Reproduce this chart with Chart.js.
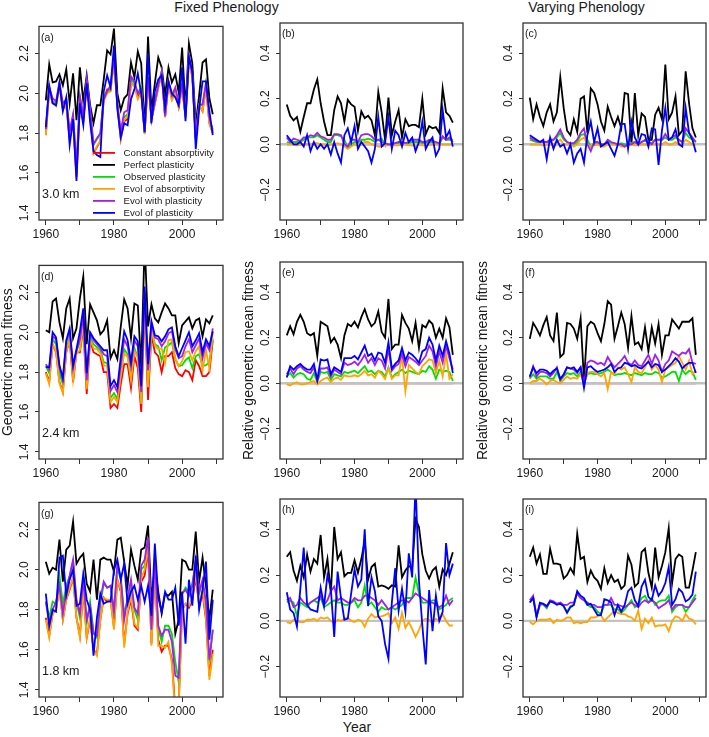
<!DOCTYPE html>
<html><head><meta charset="utf-8">
<script src="https://cdn.jsdelivr.net/npm/chart.js@4.4.1/dist/chart.umd.min.js"></script>
<style>
body{margin:0;width:709px;height:737px;background:#fff;position:relative;overflow:hidden;font-family:"Liberation Sans",Arial,sans-serif;}
canvas{position:absolute;}
.t{position:absolute;color:#1a1a1a;font-size:14px;line-height:16px;white-space:nowrap;transform:translateX(-50%);}
</style></head><body>
<div class="t" style="left:226.5px;top:-1px">Fixed Phenology</div>
<div class="t" style="left:586.5px;top:-1px">Varying Phenology</div>
<div class="t" style="left:357px;top:719px">Year</div>
<script>
const years = [1960,1961,1962,1963,1964,1965,1966,1967,1968,1969,1970,1971,1972,1973,1974,1975,1976,1977,1978,1979,1980,1981,1982,1983,1984,1985,1986,1987,1988,1989,1990,1991,1992,1993,1994,1995,1996,1997,1998,1999,2000,2001,2002,2003,2004,2005,2006,2007,2008,2009];
const seriesNames = ["Constant absorptivity","Perfect plasticity","Observed plasticity","Evol of absorptivity","Evol with plasticity","Evol of plasticity"];
const seriesColors = ["#FF0000","#000000","#00E000","#FFA500","#A020F0","#0000FF"];
const absTicks = [1.4,1.6,1.8,2.0,2.2];
const relTicks = [-0.2,0.0,0.2,0.4];
const xTicks = [1960,1970,1980,1990,2000,2010];
const xLabeled = [1960,1980,2000];

// (a) 3.0 km, fixed phenology
const a_red = [1.79,2.02,1.95,1.94,2.04,1.92,1.94,1.77,1.86,1.58, 1.95,1.86,2.05,1.90,1.70,1.73,1.76,1.97,2.02,2.02, 2.16,1.94,1.77,1.86,1.87,2.05,2.04,1.98,2.01,1.80, 2.08,1.87,1.95,2.03,2.10,1.88,2.05,1.97,2.01,1.93, 2.03,1.88,2.17,2.08,1.77,1.94,1.91,2.03,1.85,1.80];
const a_black = [1.965,2.145,2.055,2.06,2.095,2.04,2.12,1.95,2.10,1.865, 2.13,1.96,2.09,1.94,1.85,1.94,1.94,2.07,2.215,2.195, 2.325,2.00,1.915,1.975,1.995,2.155,2.08,2.21,2.15,1.82, 2.285,1.91,2.05,2.18,2.13,1.99,2.13,2.055,2.095,2.005, 2.23,1.925,2.25,2.15,1.845,1.99,2.155,2.17,1.975,1.895];
const a_green = [1.80,2.025,1.96,1.95,2.05,1.94,1.97,1.80,1.89,1.62, 1.98,1.88,2.06,1.91,1.74,1.77,1.795,1.99,2.005,2.02, 2.17,1.945,1.79,1.88,1.895,2.07,2.05,2.00,2.035,1.80, 2.08,1.87,1.955,2.035,2.11,1.885,2.055,1.98,2.02,1.94, 2.035,1.885,2.18,2.09,1.775,1.94,1.94,2.05,1.87,1.82];
const a_orange = [1.79,2.02,1.95,1.935,2.04,1.92,1.94,1.77,1.865,1.585, 1.95,1.86,2.045,1.90,1.70,1.735,1.76,1.96,2.00,2.01, 2.16,1.935,1.775,1.87,1.88,2.05,2.035,1.97,2.00,1.795, 2.075,1.865,1.945,2.025,2.10,1.88,2.045,1.965,2.00,1.93, 2.025,1.875,2.17,2.08,1.77,1.94,1.91,2.03,1.85,1.80];
const a_purple = [1.82,2.03,1.975,1.96,2.055,1.95,1.97,1.81,1.895,1.63, 1.985,1.89,2.07,1.92,1.745,1.775,1.80,1.97,2.01,2.04, 2.18,1.95,1.81,1.905,1.915,2.085,2.06,2.00,2.02,1.805, 2.08,1.87,1.955,2.04,2.11,1.885,2.06,1.99,2.03,1.95, 2.04,1.89,2.19,2.095,1.78,1.945,1.945,2.05,1.88,1.81];
const a_blue = [1.83,2.04,1.95,1.94,2.05,1.91,1.98,1.74,1.87,1.56, 1.95,1.84,2.05,1.855,1.71,1.69,1.68,2.01,2.09,2.03, 2.24,1.92,1.78,1.85,1.84,1.97,2.02,2.10,2.00,1.805, 2.20,1.85,2.01,2.07,2.09,1.93,2.06,2.00,1.98,1.94, 2.13,1.86,2.18,2.11,1.72,1.92,2.06,2.06,1.91,1.79];

// relative panels: reference series (constant absorptivity) is zero
const relConst = [0,0,0,0,0,0,0,0,0,0, 0,0,0,0,0,0,0,0,0,0, 0,0,0,0,0,0,0,0,0,0, 0,0,0,0,0,0,0,0,0,0, 0,0,0,0,0,0,0,0,0,0];

// (b)
const b_black = [0.175,0.125,0.105,0.12,0.055,0.12,0.18,0.18,0.24,0.285, 0.18,0.10,0.04,0.04,0.15,0.21,0.18,0.10,0.195,0.175, 0.165,0.06,0.145,0.115,0.125,0.105,0.04,0.23,0.14,0.02, 0.205,0.04,0.10,0.15,0.03,0.11,0.08,0.085,0.085,0.075, 0.20,0.045,0.08,0.07,0.075,0.05,0.245,0.14,0.125,0.095];
const b_green = [0.01,0.005,0.01,0.01,0.01,0.02,0.03,0.03,0.03,0.04, 0.03,0.02,0.01,0.01,0.04,0.04,0.035,0.02,-0.015,0.0, 0.01,0.005,0.02,0.02,0.025,0.02,0.01,0.02,0.025,0.0, 0.0,0.0,0.005,0.005,0.01,0.005,0.005,0.01,0.01,0.01, 0.005,0.005,0.01,0.01,0.005,0.0,0.03,0.02,0.02,0.02];
const b_orange = [0.0,0.0,0.0,-0.005,0.0,0.0,0.0,0.0,0.005,0.005, 0.0,0.0,-0.005,0.0,0.0,0.005,0.0,-0.01,-0.02,-0.01, 0.0,-0.005,0.005,0.01,0.01,0.0,-0.005,-0.01,-0.01,-0.005, -0.005,-0.005,-0.005,-0.005,0.0,0.0,-0.005,-0.005,-0.01,0.0, -0.005,-0.005,0.0,0.0,0.0,0.0,0.0,0.0,0.0,0.0];
const b_purple = [0.03,0.01,0.025,0.02,0.015,0.03,0.03,0.04,0.035,0.05, 0.035,0.03,0.02,0.02,0.045,0.045,0.04,0.0,-0.01,0.02, 0.02,0.01,0.04,0.045,0.045,0.035,0.02,0.02,0.01,0.005, 0.0,0.0,0.005,0.01,0.01,0.005,0.01,0.02,0.02,0.02, 0.01,0.01,0.02,0.015,0.01,0.005,0.035,0.02,0.03,0.01];
const b_blue = [0.04,0.02,0.0,0.0,0.01,-0.01,0.04,-0.03,0.01,-0.02, 0.0,-0.02,0.0,-0.045,0.01,-0.04,-0.08,0.04,0.07,0.01, 0.08,-0.02,0.01,-0.01,-0.03,-0.08,-0.02,0.12,-0.01,0.005, 0.12,-0.02,0.06,0.04,-0.01,0.05,0.01,0.03,-0.03,0.01, 0.10,-0.02,0.01,0.03,-0.05,-0.02,0.15,0.03,0.06,-0.01];

// (c)
const c_black = [0.205,0.11,0.175,0.12,0.08,0.14,0.175,0.10,0.14,0.295, 0.16,0.06,0.04,0.11,0.055,0.20,0.21,0.05,0.245,0.225, 0.175,0.10,0.06,0.165,0.12,0.08,0.12,0.07,0.225,0.22, 0.0,0.225,0.04,0.135,0.12,0.02,0.02,0.13,0.16,0.11, 0.35,0.11,0.14,0.21,0.04,0.06,0.32,0.18,0.07,0.03];
const c_green = [0.02,0.015,0.01,0.01,0.01,0.01,0.01,0.02,0.03,0.05, 0.02,0.01,0.0,0.0,0.01,0.04,0.045,0.02,-0.01,0.0, 0.005,0.0,0.0,0.01,0.005,0.0,0.0,0.005,0.0,0.0, 0.005,0.01,0.0,0.01,0.015,0.01,0.005,0.02,0.02,0.02, 0.03,0.02,0.02,0.03,0.02,0.01,0.05,0.03,0.02,0.01];
const c_orange = [0.0,0.0,0.0,0.0,-0.005,0.0,0.0,0.0,0.01,0.02, 0.0,0.0,0.0,-0.01,0.0,0.02,0.03,0.0,-0.01,-0.005, 0.0,-0.01,-0.01,0.0,0.0,0.0,0.0,-0.01,-0.01,-0.005, 0.0,-0.005,-0.005,0.0,0.0,-0.005,0.0,0.0,0.0,0.0, 0.01,0.0,0.0,0.01,0.0,0.0,0.02,0.01,0.0,0.0];
const c_purple = [0.03,0.02,0.015,0.01,0.01,0.01,0.02,0.02,0.04,0.065, 0.03,0.01,0.005,0.005,0.02,0.05,0.07,0.0,-0.03,0.01, 0.01,0.0,0.0,0.02,0.01,0.005,0.0,0.0,-0.01,0.0, 0.0,0.01,0.0,0.01,0.02,0.01,0.0,0.02,0.02,0.02, 0.045,0.02,0.03,0.04,0.02,0.01,0.07,0.05,0.03,0.01];
const c_blue = [0.04,0.03,0.02,0.01,0.02,-0.065,0.03,-0.02,0.02,-0.01, 0.0,-0.04,0.0,-0.08,-0.04,-0.02,-0.08,0.04,0.10,0.01, 0.07,-0.01,0.0,0.01,-0.02,-0.05,0.0,0.09,0.09,-0.02, 0.10,0.03,0.0,0.045,0.04,-0.01,0.07,0.065,-0.09,0.06, 0.16,0.02,0.03,0.065,0.0,-0.01,0.16,0.05,0.02,-0.035];

// (d) 2.4 km
const d_red = [1.80,1.75,1.94,1.90,1.75,1.70,1.90,1.96,1.75,1.90, 1.90,2.02,1.69,1.96,1.90,1.89,1.88,1.80,1.80,1.62, 1.64,1.62,1.74,1.84,1.84,1.72,1.88,1.82,1.60,2.14, 1.66,1.99,1.90,1.88,1.80,1.88,1.88,1.90,1.82,1.79, 1.78,1.81,1.80,1.76,1.86,1.83,1.78,1.78,1.80,1.96];
const d_black = [2.01,2.0,2.155,2.17,2.05,1.97,2.12,2.17,1.97,2.02, 2.17,2.28,1.94,2.14,2.10,2.06,1.99,2.01,2.06,1.87, 1.91,1.865,2.03,2.165,2.12,1.97,2.145,2.135,1.825,2.45, 2.03,2.14,2.07,2.05,2.10,2.145,2.12,2.085,2.085,1.945, 2.035,2.055,2.075,2.02,2.06,2.07,1.98,2.065,2.045,2.085];
const d_green = [1.83,1.795,1.965,1.94,1.795,1.74,1.92,1.975,1.795,1.905, 1.95,2.065,1.74,1.975,1.94,1.925,1.91,1.85,1.845,1.67, 1.695,1.665,1.80,1.915,1.89,1.775,1.92,1.875,1.65,2.17, 1.73,2.015,1.94,1.93,1.86,1.925,1.935,1.95,1.865,1.83, 1.835,1.86,1.875,1.82,1.88,1.89,1.83,1.835,1.85,1.97];
const d_orange = [1.795,1.74,1.94,1.905,1.745,1.695,1.90,1.965,1.76,1.895, 1.91,2.04,1.715,1.965,1.92,1.915,1.895,1.835,1.83,1.65, 1.675,1.65,1.78,1.895,1.875,1.76,1.905,1.875,1.64,2.16, 1.725,2.01,1.935,1.915,1.92,1.845,1.96,1.965,1.87,1.83, 1.855,1.90,1.905,1.86,1.905,1.93,1.81,1.91,1.82,2.0];
const d_purple = [1.84,1.815,1.98,1.965,1.825,1.76,1.95,2.005,1.82,1.91, 1.965,2.085,1.76,1.99,1.96,1.94,1.92,1.89,1.88,1.705, 1.735,1.70,1.84,1.965,1.93,1.83,1.96,1.93,1.70,2.205, 1.81,2.045,1.975,1.965,1.93,1.955,1.995,2.005,1.915,1.87, 1.88,1.93,1.965,1.90,1.935,1.97,1.87,1.945,1.91,2.02];
const d_blue = [1.825,1.825,2.0,1.975,1.835,1.77,1.96,2.02,1.835,1.915, 2.005,2.12,1.795,2.0,1.97,1.95,1.93,1.91,1.91,1.73, 1.76,1.725,1.875,2.005,1.96,1.85,1.98,1.955,1.73,2.23, 1.84,2.055,1.985,1.98,1.955,1.98,2.015,2.025,1.93,1.88, 1.92,1.96,2.0,1.93,1.96,1.995,1.90,1.965,1.93,2.005];

// (e)
const e_black = [0.21,0.25,0.215,0.27,0.30,0.27,0.22,0.21,0.22,0.12, 0.27,0.26,0.25,0.18,0.20,0.17,0.11,0.21,0.26,0.25, 0.27,0.245,0.29,0.325,0.28,0.25,0.265,0.315,0.225,0.20, 0.37,0.15,0.17,0.17,0.30,0.265,0.24,0.185,0.265,0.155, 0.255,0.245,0.275,0.26,0.20,0.24,0.20,0.285,0.245,0.125];
const e_green = [0.03,0.045,0.025,0.04,0.045,0.04,0.02,0.015,0.045,0.005, 0.05,0.045,0.05,0.015,0.04,0.035,0.03,0.05,0.045,0.05, 0.055,0.045,0.06,0.075,0.05,0.055,0.04,0.055,0.05,0.03, 0.07,0.025,0.04,0.05,0.06,0.045,0.055,0.05,0.045,0.04, 0.055,0.05,0.075,0.06,0.02,0.06,0.05,0.055,0.05,0.01];
const e_orange = [-0.005,-0.01,0.0,0.005,-0.005,-0.005,0.0,0.005,0.01,-0.005, 0.01,0.02,0.025,0.005,0.02,0.025,0.015,0.035,0.03,0.03, 0.035,0.03,0.04,0.055,0.035,0.04,0.025,0.055,0.04,0.02, 0.065,0.02,0.035,0.035,0.12,-0.035,0.08,0.065,0.05,0.04, 0.075,0.09,0.105,0.10,0.045,0.10,0.03,0.13,0.02,0.04];
const e_purple = [0.04,0.065,0.04,0.065,0.075,0.06,0.05,0.045,0.07,0.01, 0.065,0.065,0.07,0.03,0.06,0.05,0.04,0.09,0.08,0.085, 0.095,0.08,0.10,0.125,0.09,0.11,0.08,0.11,0.10,0.065, 0.15,0.055,0.075,0.085,0.13,0.075,0.115,0.105,0.095,0.08, 0.10,0.12,0.165,0.14,0.075,0.14,0.09,0.165,0.11,0.06];
const e_blue = [0.025,0.075,0.06,0.075,0.085,0.07,0.06,0.06,0.085,0.015, 0.105,0.10,0.105,0.04,0.07,0.06,0.05,0.11,0.11,0.11, 0.12,0.105,0.135,0.165,0.12,0.13,0.10,0.135,0.13,0.09, 0.18,0.065,0.085,0.10,0.155,0.10,0.135,0.125,0.11,0.09, 0.14,0.15,0.20,0.17,0.10,0.165,0.12,0.185,0.13,0.045];

// (f)
const f_black = [0.195,0.265,0.24,0.21,0.255,0.29,0.21,0.185,0.31,0.115, 0.13,0.265,0.26,0.24,0.195,0.285,0.01,0.25,0.27,0.26, 0.22,0.185,0.26,0.36,0.345,0.195,0.25,0.31,0.26,0.155, 0.295,0.17,0.18,0.15,0.245,0.14,0.245,0.175,0.26,0.125, 0.21,0.21,0.28,0.26,0.24,0.27,0.27,0.27,0.285,0.125];
const f_green = [0.02,0.04,0.02,0.03,0.03,0.03,0.02,0.02,0.05,0.01, 0.03,0.045,0.04,0.045,0.03,0.05,0.0,0.04,0.045,0.04, 0.04,0.045,0.05,0.06,0.05,0.035,0.04,0.04,0.045,0.04, 0.035,0.045,0.04,0.035,0.045,0.04,0.04,0.05,0.045,0.025, 0.03,0.04,0.05,0.05,0.01,0.06,0.04,0.055,0.05,0.015];
const f_orange = [0.0,0.01,0.01,0.02,0.01,-0.005,0.01,0.015,0.005,0.0, 0.015,0.03,0.02,0.025,0.02,0.04,0.0,0.045,0.05,0.05, 0.04,0.03,0.045,-0.025,0.05,0.04,0.07,0.06,0.07,0.04, 0.005,0.07,0.05,0.045,0.07,0.10,0.06,0.08,0.06,0.005, 0.06,0.07,0.08,0.09,0.12,0.09,0.06,0.10,0.04,0.055];
const f_purple = [0.025,0.075,0.03,0.05,0.05,0.045,0.03,0.045,0.07,0.015, 0.035,0.07,0.065,0.06,0.045,0.07,0.0,0.09,0.10,0.095, 0.085,0.09,0.08,0.115,0.09,0.07,0.085,0.10,0.12,0.09, 0.08,0.10,0.08,0.075,0.10,0.125,0.085,0.125,0.10,0.05, 0.085,0.10,0.14,0.13,0.12,0.135,0.13,0.15,0.09,0.085];
const f_blue = [0.03,0.07,0.045,0.06,0.06,0.055,0.04,0.055,0.065,0.02, 0.04,0.07,0.065,0.07,0.05,0.07,-0.02,0.07,0.075,0.06, 0.05,0.055,0.06,0.07,0.085,0.05,0.065,0.07,0.09,0.085, 0.075,0.08,0.07,0.065,0.08,0.095,0.07,0.085,0.08,0.05, 0.06,0.075,0.09,0.11,0.095,0.065,0.08,0.09,0.09,0.045];

// (g) 1.8 km
const g_red = [1.76,1.67,1.78,1.80,1.91,1.75,1.85,1.90,1.96,1.76, 1.67,1.90,1.66,1.75,1.60,1.58,1.75,1.86,1.84,1.85, 1.71,1.95,1.89,1.63,1.78,1.85,1.72,1.70,1.94,1.97, 2.10,1.63,1.98,1.65,1.59,1.62,1.62,1.55,1.30,1.32, 1.80,1.83,1.81,1.85,1.96,1.82,1.88,1.75,1.47,1.60];
const g_black = [2.04,1.98,2.01,2.0,2.15,1.94,2.10,2.12,2.24,2.03, 2.06,2.08,1.93,1.89,2.05,1.85,2.05,2.06,2.05,2.05, 1.99,2.15,2.16,2.04,1.92,2.10,2.02,1.95,2.10,2.11, 2.22,1.84,2.02,1.89,1.78,1.88,1.87,1.89,1.68,1.75, 2.05,2.04,2.00,2.00,2.19,1.94,2.06,1.92,1.75,1.90];
const g_green = [1.84,1.76,1.84,1.83,1.97,1.83,1.92,1.97,2.04,1.84, 1.76,1.96,1.73,1.84,1.69,1.66,1.83,1.93,1.91,1.92, 1.79,2.01,1.95,1.78,1.85,1.92,1.80,1.75,2.00,2.02, 2.15,1.68,2.03,1.71,1.64,1.72,1.72,1.68,1.54,1.44, 1.88,1.91,1.89,1.93,2.03,1.88,1.94,1.81,1.54,1.70];
const g_orange = [1.75,1.66,1.78,1.80,1.90,1.75,1.85,1.91,1.96,1.76, 1.66,1.91,1.66,1.76,1.60,1.57,1.75,1.86,1.85,1.85, 1.70,1.95,1.90,1.61,1.79,1.87,1.73,1.71,1.96,2.00, 2.12,1.62,1.99,1.62,1.62,1.61,1.64,1.53,1.28,1.33, 1.80,1.83,1.82,1.86,1.98,1.82,1.90,1.76,1.45,1.58];
const g_purple = [1.84,1.73,1.80,1.84,1.92,1.78,1.90,1.97,2.05,1.85, 1.78,1.95,1.75,1.82,1.68,1.67,1.85,1.94,1.91,1.92, 1.79,2.03,1.96,1.75,1.86,1.95,1.81,1.78,2.02,2.05, 2.16,1.70,2.05,1.72,1.67,1.70,1.70,1.64,1.47,1.46, 1.88,1.90,1.87,1.92,2.05,1.89,1.95,1.84,1.55,1.70];
const g_blue = [1.88,1.72,1.80,1.79,2.06,2.07,1.87,1.95,2.00,1.82, 1.83,1.98,1.85,1.80,1.57,1.76,1.88,1.83,1.84,1.84, 2.00,2.05,1.95,2.03,1.83,1.89,1.92,1.85,1.92,1.84, 1.92,1.77,2.13,1.86,1.79,1.89,1.85,1.85,1.91,1.72, 1.89,1.63,1.95,1.82,2.07,1.80,1.90,2.04,1.65,1.85];

// (h)
const h_black = [0.28,0.30,0.22,0.175,0.24,0.19,0.29,0.215,0.27,0.25, 0.375,0.19,0.27,0.12,0.41,0.27,0.30,0.195,0.21,0.21, 0.265,0.21,0.27,0.35,0.18,0.235,0.25,0.15,0.155,0.15, 0.14,0.155,0.15,0.33,0.19,0.22,0.24,0.23,0.445,0.41, 0.29,0.22,0.185,0.22,0.235,0.15,0.225,0.20,0.25,0.30];
const h_green = [0.08,0.09,0.08,0.02,0.08,0.07,0.06,0.08,0.09,0.08, 0.10,0.06,0.07,0.08,0.09,0.08,0.08,0.07,0.07,0.08, 0.09,0.06,0.08,0.155,0.07,0.08,0.06,0.04,0.06,0.05, 0.05,0.06,0.05,0.06,0.07,0.10,0.10,0.10,0.19,0.12, 0.08,0.08,0.08,0.09,0.09,0.05,0.06,0.07,0.09,0.10];
const h_orange = [-0.005,-0.01,0.005,0.0,-0.005,-0.005,0.005,0.005,0.01,0.0, 0.015,0.01,0.015,0.0,-0.01,0.005,0.0,0.01,0.015,0.0, -0.005,0.005,0.0,-0.025,0.01,0.03,0.015,0.02,0.02,0.025, 0.035,-0.01,0.015,-0.035,0.035,-0.03,-0.005,-0.035,-0.07,-0.04, 0.0,0.01,0.005,-0.01,0.01,0.0,0.03,0.0,-0.02,-0.02];
const h_purple = [0.09,0.10,0.06,0.07,0.10,0.08,0.07,0.08,0.09,0.10, 0.11,0.07,0.09,0.13,0.15,0.09,0.10,0.09,0.08,0.08, 0.10,0.09,0.09,0.11,0.11,0.10,0.09,0.07,0.09,0.07, 0.05,0.06,0.07,0.08,0.09,0.09,0.08,0.10,0.12,0.11, 0.10,0.09,0.08,0.08,0.07,0.06,0.07,0.11,0.07,0.09];
const h_blue = [0.125,0.05,0.035,-0.025,0.14,0.32,0.07,0.05,0.045,0.04, 0.145,0.065,0.20,0.14,-0.07,0.215,0.10,0.005,0.01,0.12, 0.225,0.15,0.18,0.40,0.065,0.19,0.13,0.02,0.0,-0.10, -0.165,0.08,0.23,0.045,0.14,0.04,0.295,0.19,0.60,0.175, -0.02,-0.19,0.135,-0.045,0.11,0.0,0.04,0.34,0.20,0.25];

// (i)
const i_black = [0.28,0.32,0.25,0.29,0.205,0.205,0.315,0.25,0.25,0.245, 0.185,0.20,0.23,0.205,0.38,0.27,0.28,0.17,0.22,0.19, 0.175,0.14,0.23,0.165,0.20,0.17,0.18,0.14,0.155,0.285, 0.245,0.15,0.165,0.30,0.315,0.21,0.145,0.32,0.19,0.24, 0.30,0.405,0.165,0.27,0.29,0.28,0.145,0.145,0.22,0.30];
const i_green = [0.08,0.10,0.02,0.075,0.07,0.055,0.085,0.08,0.075,0.075, 0.065,0.04,0.065,0.07,0.125,0.10,0.09,0.07,0.06,0.06, 0.04,0.03,0.07,0.07,0.07,0.05,0.05,0.035,0.05,0.07, 0.09,0.06,0.07,0.10,0.11,0.08,0.10,0.07,0.085,0.09, 0.09,0.11,0.04,0.06,0.07,0.07,0.04,0.06,0.09,0.115];
const i_orange = [-0.005,-0.015,0.0,0.005,0.005,0.005,0.01,-0.01,0.005,0.0, 0.005,0.015,0.015,-0.01,-0.005,-0.01,-0.005,-0.005,0.015,0.015, 0.02,0.025,0.0,0.015,0.03,0.045,0.035,0.03,0.03,0.02, 0.015,0.0,0.045,-0.035,0.01,-0.01,0.015,-0.025,-0.02,-0.02, -0.015,-0.045,0.0,0.02,0.015,0.0,0.03,0.01,0.005,-0.015];
const i_purple = [0.09,0.11,0.02,0.07,0.075,0.06,0.09,0.085,0.075,0.08, 0.07,0.07,0.08,0.08,0.12,0.10,0.09,0.08,0.07,0.07, 0.06,0.06,0.07,0.07,0.10,0.07,0.07,0.065,0.06,0.07, 0.08,0.07,0.06,0.08,0.09,0.08,0.09,0.08,0.055,0.065, 0.075,0.09,0.05,0.07,0.07,0.07,0.06,0.06,0.08,0.10];
const i_blue = [0.08,0.10,0.015,0.08,0.075,0.065,0.085,0.08,0.07,0.075, 0.065,0.035,0.06,0.07,0.13,0.11,0.10,0.07,0.075,0.05, 0.025,0.025,0.095,0.09,0.08,0.025,0.07,0.04,0.07,0.13, 0.145,0.09,0.065,0.15,0.18,0.105,0.09,0.155,0.11,0.13, 0.165,0.235,0.07,0.095,0.14,0.125,0.085,0.095,0.115,0.215];

const FONT = '"Liberation Sans", Arial, Helvetica, sans-serif';
Chart.defaults.font.family = FONT;
Chart.defaults.font.size = 12;
Chart.defaults.color = '#1a1a1a';

const COLS = [[39,223],[280,463],[523,706]];
const ROWS = [[23,220],[262,459],[499,697]];
const LEFTW = [39,39,48];

const panels = [
  {letter:'(a)', col:0, row:0, kind:'abs', km:'3.0 km', legend:true, series:[a_red,a_black,a_green,a_orange,a_purple,a_blue]},
  {letter:'(b)', col:1, row:0, kind:'rel', series:[relConst,b_black,b_green,b_orange,b_purple,b_blue]},
  {letter:'(c)', col:2, row:0, kind:'rel', series:[relConst,c_black,c_green,c_orange,c_purple,c_blue]},
  {letter:'(d)', col:0, row:1, kind:'abs', km:'2.4 km', ytitle:'Geometric mean fitness', series:[d_red,d_black,d_green,d_orange,d_purple,d_blue]},
  {letter:'(e)', col:1, row:1, kind:'rel', ytitle:'Relative geometric mean fitness', series:[relConst,e_black,e_green,e_orange,e_purple,e_blue]},
  {letter:'(f)', col:2, row:1, kind:'rel', ytitle:'Relative geometric mean fitness', series:[relConst,f_black,f_green,f_orange,f_purple,f_blue]},
  {letter:'(g)', col:0, row:2, kind:'abs', km:'1.8 km', series:[g_red,g_black,g_green,g_orange,g_purple,g_blue]},
  {letter:'(h)', col:1, row:2, kind:'rel', series:[relConst,h_black,h_green,h_orange,h_purple,h_blue]},
  {letter:'(i)', col:2, row:2, kind:'rel', series:[relConst,i_black,i_green,i_orange,i_purple,i_blue]}
];

function fmtY(v){ return Number(v).toFixed(1).replace('-', '\u2212'); }

function makePanel(p){
  const [bl, br] = COLS[p.col], [bt, bb] = ROWS[p.row];
  const leftW = LEFTW[p.col], padTop = 6, padRight = 3, bottomH = 24;
  const W = br - bl + leftW + padRight, H = bb - bt + padTop + bottomH;
  const cv = document.createElement('canvas');
  cv.width = W; cv.height = H;
  cv.style.left = (bl - leftW) + 'px'; cv.style.top = (bt - padTop) + 'px';
  cv.style.width = W + 'px'; cv.style.height = H + 'px';
  document.body.appendChild(cv);
  const isAbs = p.kind === 'abs';
  const yT = isAbs ? absTicks : relTicks;

  const decor = {
    id: 'decor',
    afterDatasetDraw(chart, args){
      if (args.index !== 0 || isAbs) return;
      const {ctx, chartArea: ca} = chart;
      const y = chart.scales.y.getPixelForValue(0);
      ctx.save();
      ctx.strokeStyle = '#c2c2c2'; ctx.lineWidth = 2.4;
      ctx.beginPath(); ctx.moveTo(ca.left, y); ctx.lineTo(ca.right, y); ctx.stroke();
      ctx.restore();
    },
    afterDraw(chart){
      const {ctx, chartArea: ca} = chart;
      ctx.save();
      ctx.strokeStyle = '#333'; ctx.lineWidth = 1.3;
      ctx.strokeRect(ca.left, ca.top, ca.right - ca.left, ca.bottom - ca.top);
      ctx.fillStyle = '#1a1a1a';
      ctx.textBaseline = 'middle'; ctx.textAlign = 'left';
      ctx.font = '10.5px ' + FONT;
      ctx.fillText(p.letter, ca.left + 2, ca.top + 11.5);
      if (p.km) {
        ctx.font = '12.5px ' + FONT;
        ctx.fillText(p.km, ca.left + 3, chart.scales.y.getPixelForValue(1.49));
      }
      if (p.legend) {
        ctx.font = '9.7px ' + FONT;
        chart.data.datasets.forEach((ds, i) => {
          const y = ca.top + 126.5 + 12 * i;
          ctx.strokeStyle = ds.borderColor; ctx.lineWidth = 1.8;
          ctx.beginPath(); ctx.moveTo(ca.left + 54, y); ctx.lineTo(ca.left + 76, y); ctx.stroke();
          ctx.fillStyle = '#1a1a1a';
          ctx.fillText(ds.label, ca.left + 84.5, y);
        });
      }
      ctx.restore();
    }
  };

  new Chart(cv, {
    type: 'line',
    data: {
      labels: years,
      datasets: p.series.map((arr, i) => ({
        label: seriesNames[i], data: arr, borderColor: seriesColors[i], backgroundColor: seriesColors[i],
        borderWidth: 1.8, pointRadius: 0, tension: 0, fill: false, clip: 0, order: 5 - i
      }))
    },
    options: {
      responsive: false, animation: false, devicePixelRatio: 1,
      layout: {padding: {top: padTop, right: padRight, left: 0, bottom: 0}},
      plugins: {legend: {display: false}, tooltip: {enabled: false}},
      scales: {
        x: {
          type: 'linear', min: 1958, max: 2012,
          afterBuildTicks: s => { s.ticks = xTicks.map(v => ({value: v})); },
          afterFit: s => { s.height = bottomH; },
          ticks: {autoSkip: false, minRotation: 0, maxRotation: 0, padding: 2, color: '#1a1a1a',
                  font: {size: 12}, callback: v => xLabeled.includes(v) ? String(v) : ''},
          grid: {drawOnChartArea: false, drawTicks: true, tickLength: 5, color: '#333', lineWidth: 1},
          border: {display: false}
        },
        y: {
          type: 'linear', min: isAbs ? 1.364 : -0.332, max: isAbs ? 2.336 : 0.532,
          afterBuildTicks: s => { s.ticks = yT.map(v => ({value: v})); },
          afterFit: s => { s.width = leftW; },
          ticks: {autoSkip: false, minRotation: 90, maxRotation: 90, crossAlign: 'center',
                  padding: isAbs ? 2.2 : -1.3, color: '#1a1a1a', font: {size: 12}, callback: v => fmtY(v)},
          grid: {drawOnChartArea: false, drawTicks: true, tickLength: 4, color: '#333', lineWidth: 1},
          border: {display: false},
          title: {display: !!p.ytitle, text: p.ytitle || '', padding: 0, color: '#1a1a1a', font: {size: 14}}
        }
      }
    },
    plugins: [decor]
  });
}
panels.forEach(makePanel);
</script>
</body></html>
